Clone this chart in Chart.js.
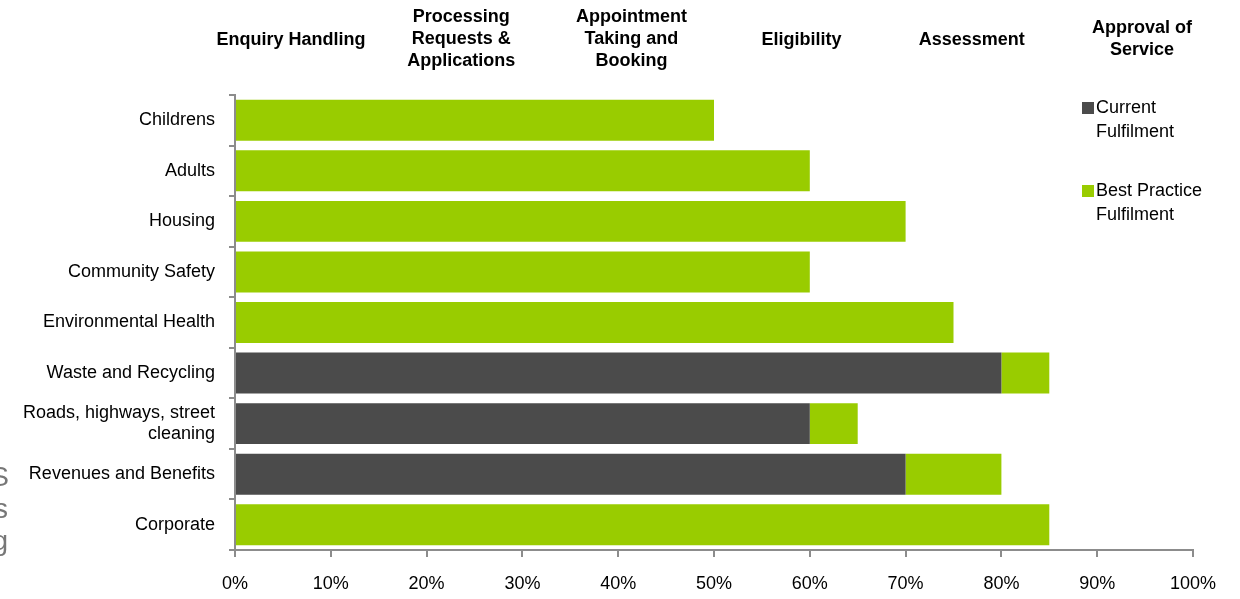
<!DOCTYPE html>
<html>
<head>
<meta charset="utf-8">
<script src="https://cdn.jsdelivr.net/npm/chart.js@4/dist/chart.umd.min.js"></script>
<style>
  html, body { margin: 0; padding: 0; background: #ffffff; }
  #wrap { position: relative; width: 1240px; height: 599px; }
</style>
</head>
<body>
<div id="wrap"><canvas id="c" width="1240" height="599"></canvas></div>
<script>
const categories = [
  "Childrens", "Adults", "Housing", "Community Safety", "Environmental Health",
  "Waste and Recycling", ["Roads, highways, street", "cleaning"], "Revenues and Benefits", "Corporate"
];
const currentFulfilment = [0, 0, 0, 0, 0, 80, 60, 70, 0];
const bestPracticeFulfilment = [50, 60, 70, 60, 75, 85, 65, 80, 85];
const seriesNames = [["Current", "Fulfilment"], ["Best Practice", "Fulfilment"]];
const columnHeaders = [
  ["Enquiry Handling"],
  ["Processing", "Requests &", "Applications"],
  ["Appointment", "Taking and", "Booking"],
  ["Eligibility"],
  ["Assessment"],
  ["Approval of", "Service"]
];
const xTicks = [0, 10, 20, 30, 40, 50, 60, 70, 80, 90, 100];

const DARK = "#4b4b4b";
const GREEN = "#99cc00";
const AXIS = "#8c8c8c";
const FONT = "'Liberation Sans', Arial, sans-serif";

const bestPracticeGap = bestPracticeFulfilment.map((v, i) => v - currentFulfilment[i]);

const overlay = {
  id: "overlay",
  afterDraw(chart) {
    const ctx = chart.ctx;
    ctx.save();
    // column headers
    ctx.fillStyle = "#000";
    ctx.font = "bold 18px " + FONT;
    ctx.textAlign = "center";
    ctx.textBaseline = "middle";
    const x0 = 291, dx = 170.2;
    columnHeaders.forEach((lines, i) => {
      const cx = x0 + dx * i;
      const lh = 22;
      const cy = lines.length === 3 ? 39 : (lines.length === 2 ? 39 : 40);
      const start = cy - (lines.length - 1) * lh / 2;
      lines.forEach((t, j) => ctx.fillText(t, cx, start + j * lh));
    });
    // legend
    ctx.font = "18px " + FONT;
    ctx.textAlign = "left";
    const legendColors = [DARK, GREEN];
    const legendY = [108, 191];
    seriesNames.forEach((lines, i) => {
      ctx.fillStyle = legendColors[i];
      ctx.fillRect(1082, legendY[i] - 6, 12, 12);
      ctx.fillStyle = "#000";
      lines.forEach((t, j) => ctx.fillText(t, 1096, legendY[i] + j * 24));
    });
    // clipped stray glyphs at left edge
    ctx.fillStyle = "#777";
    ctx.font = "28px " + FONT;
    ctx.textAlign = "right";
    ctx.textBaseline = "alphabetic";
    ctx.fillText("S", 9, 486);
    ctx.fillText("s", 8, 518);
    ctx.fillText("g", 8, 550);
    ctx.restore();
  }
};

new Chart(document.getElementById("c"), {
  type: "bar",
  data: {
    labels: categories,
    datasets: [
      { label: "Current Fulfilment", data: currentFulfilment, backgroundColor: DARK,
        categoryPercentage: 1, barPercentage: 0.81 },
      { label: "Best Practice Fulfilment", data: bestPracticeGap, backgroundColor: GREEN,
        categoryPercentage: 1, barPercentage: 0.81 }
    ]
  },
  options: {
    indexAxis: "y",
    responsive: false,
    animation: false,
    layout: { padding: { left: 0, right: 47, top: 95, bottom: 0 } },
    plugins: { legend: { display: false }, tooltip: { enabled: false } },
    scales: {
      x: {
        stacked: true,
        min: 0, max: 100,
        afterBuildTicks: s => { s.ticks = xTicks.map(v => ({ value: v })); },
        afterFit: s => { s.height = 49; },
        grid: { drawOnChartArea: false, color: AXIS, lineWidth: 2, tickLength: 7 },
        border: { color: AXIS, width: 2 },
        ticks: { color: "#000", font: { family: FONT, size: 18 }, padding: 16,
                 callback: v => v + "%" }
      },
      y: {
        stacked: true,
        afterFit: s => { s.width = 235; },
        grid: { drawOnChartArea: false, color: AXIS, lineWidth: 2, tickLength: 6, offset: true },
        border: { color: AXIS, width: 2 },
        ticks: { color: "#000", font: { family: FONT, size: 18, lineHeight: 1.2 }, padding: 14 }
      }
    }
  },
  plugins: [overlay]
});
</script>
</body>
</html>
